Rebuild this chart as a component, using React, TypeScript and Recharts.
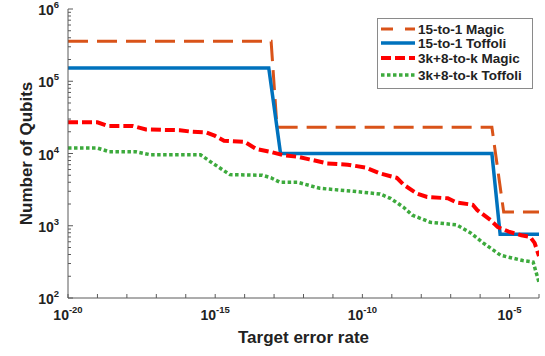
import { LineChart, Line, XAxis, YAxis, Legend, Label } from 'recharts'

// target error rate as exponent of 10, and qubit counts
const magic15Exp = [-20, -13.1, -12.9, -5.6, -5.2, -4]
const magic15Qubits = [3.57e5, 3.57e5, 2.3e4, 2.3e4, 1.55e3, 1.55e3]

const toffoli15Exp = [-20, -13.18, -12.78, -5.6, -5.32, -4]
const toffoli15Qubits = [1.52e5, 1.52e5, 1.0e4, 1.0e4, 760, 760]

const magicKExp = [
  -20, -19.0, -18.65, -17.8, -17.35, -16.2, -15.8, -15.3, -15.0, -14.7, -14.0, -13.6, -13.1,
  -12.7, -12.2, -11.8, -11.2, -10.5, -9.9, -9.4, -8.83, -8.6, -8.15, -7.8, -7.1, -6.8, -6.25,
  -6.1, -5.65, -5.4, -5.0, -4.6, -4.3, -4.15, -4,
]
const magicKQubits = [
  2.7e4, 2.7e4, 2.4e4, 2.4e4, 2.15e4, 2.1e4, 2.0e4, 1.95e4, 1.75e4, 1.5e4, 1.45e4, 1.15e4, 1.05e4,
  9.5e3, 9.0e3, 8.3e3, 7.3e3, 7.0e3, 6.4e3, 5.3e3, 4.6e3, 3.7e3, 2.8e3, 2.5e3, 2.4e3, 2.1e3, 1.95e3,
  1.65e3, 1.2e3, 960, 820, 740, 700, 580, 380,
]

const toffoliKExp = [
  -20, -19.0, -18.6, -17.7, -17.2, -15.5, -15.1, -14.5, -13.4, -13.1, -12.8, -12.2, -11.45, -10.3,
  -9.4, -9.05, -8.6, -8.3, -7.7, -6.8, -6.35, -5.9, -5.3, -4.55, -4.2, -4,
]
const toffoliKQubits = [
  1.19e4, 1.19e4, 1.06e4, 1.06e4, 9.6e3, 9.6e3, 7.4e3, 5.1e3, 5.0e3, 4.6e3, 4.0e3, 4.0e3, 3.3e3, 3.0e3,
  2.75e3, 2.4e3, 1.8e3, 1.4e3, 1.12e3, 1.03e3, 810, 580, 390, 330, 315, 165,
]

const xTickExp = [-20, -19, -18, -17, -16, -15, -14, -13, -12, -11, -10, -9, -8, -7, -6, -5, -4]
const yMajor = [1e2, 1e3, 1e4, 1e5, 1e6]
const yMinorSteps = [2, 3, 4, 5, 6, 7, 8, 9]

const series = [
  { name: '15-to-1 Magic', exp: magic15Exp, qubits: magic15Qubits, color: '#D95319', width: 3, dash: '20 9', legendDash: '12 12' },
  { name: '15-to-1 Toffoli', exp: toffoli15Exp, qubits: toffoli15Qubits, color: '#0072BD', width: 3.5, dash: undefined, legendDash: undefined },
  { name: '3k+8-to-k Magic', exp: magicKExp, qubits: magicKQubits, color: '#FF0000', width: 4, dash: '10 4', legendDash: '10 4' },
  { name: '3k+8-to-k Toffoli', exp: toffoliKExp, qubits: toffoliKQubits, color: '#3DAA3D', width: 3.5, dash: '3.5 2.5', legendDash: '3.5 2.5' },
]

const xTicks = xTickExp.map((e) => Math.pow(10, e))
const yTicks = [
  ...yMajor,
  ...yMajor.slice(0, -1).flatMap((m) => yMinorSteps.map((s) => s * m)),
]

const font = '"Liberation Sans", Arial, sans-serif'
const axisColor = '#5a5a5a'

const expOf = (v: number) => Math.round(Math.log10(v))
const isMajorY = (v: number) => Math.abs(Math.log10(v) - expOf(v)) < 1e-6

function BottomTick({ x, y, payload }: any) {
  const e = expOf(payload.value)
  return (
    <g>
      <line x1={x} x2={x} y1={y} y2={y - 4} stroke={axisColor} />
      {e % 5 === 0 && (
        <text x={x} y={y + 22} textAnchor="middle" fontFamily={font} fontWeight="bold" fontSize={14} fill="#222">
          10
          <tspan dy={-7} fontSize={9.5}>{e}</tspan>
        </text>
      )}
    </g>
  )
}

function TopTick({ x, y }: any) {
  return <line x1={x} x2={x} y1={y} y2={y + 4} stroke={axisColor} />
}

function LeftTick({ x, y, payload }: any) {
  const major = isMajorY(payload.value)
  const e = expOf(payload.value)
  return (
    <g>
      <line x1={x} x2={x + (major ? 5 : 3)} y1={y} y2={y} stroke={axisColor} />
      {major && (
        <text x={x - 9} y={y + 6} textAnchor="end" fontFamily={font} fontWeight="bold" fontSize={14} fill="#222">
          10
          <tspan dy={-7} fontSize={9.5}>{e}</tspan>
        </text>
      )}
    </g>
  )
}

function RightTick({ x, y, payload }: any) {
  const major = isMajorY(payload.value)
  return <line x1={x} x2={x - (major ? 5 : 3)} y1={y} y2={y} stroke={axisColor} />
}

function LegendBox() {
  return (
    <svg width={156} height={71} style={{ display: 'block' }}>
      <rect x={0.5} y={0.5} width={155} height={70} fill="#fff" stroke="#8a8a8a" />
      {series.map((s, i) => {
        const cy = [11, 25, 40, 57][i]
        return (
          <g key={s.name}>
            <line x1={4} x2={38} y1={cy} y2={cy} stroke={s.color} strokeWidth={s.width} strokeDasharray={s.legendDash} />
            <text x={41} y={cy + 5} fontFamily={font} fontWeight="bold" fontSize={13.5} fill="#222">
              {s.name}
            </text>
          </g>
        )
      })}
    </svg>
  )
}

export default function App() {
  return (
    <div style={{ position: 'absolute', left: 0, top: 0, background: '#fff' }}>
      <LineChart width={545} height={356} margin={{ top: 9, right: 6, bottom: 0, left: 0 }}>
        <XAxis
          xAxisId="bottom"
          dataKey="rate"
          type="number"
          scale="log"
          domain={[1e-20, 1e-4]}
          allowDataOverflow
          ticks={xTicks}
          interval={0}
          height={58}
          tickSize={0}
          tickMargin={0}
          tickLine={false}
          stroke={axisColor}
          tick={<BottomTick />}
        >
          <Label
            value="Target error rate"
            position="insideBottom"
            offset={13}
            style={{ fontFamily: font, fontWeight: 'bold', fontSize: 17, fill: '#222' }}
          />
        </XAxis>
        <XAxis
          xAxisId="top"
          orientation="top"
          dataKey="rate"
          type="number"
          scale="log"
          domain={[1e-20, 1e-4]}
          allowDataOverflow
          ticks={xTicks}
          interval={0}
          height={0}
          tickSize={0}
          tickMargin={0}
          tickLine={false}
          stroke={axisColor}
          tick={<TopTick />}
        />
        <YAxis
          yAxisId="left"
          dataKey="qubits"
          type="number"
          scale="log"
          domain={[1e2, 1e6]}
          allowDataOverflow
          ticks={yTicks}
          interval={0}
          width={68}
          tickSize={0}
          tickMargin={0}
          tickLine={false}
          stroke={axisColor}
          tick={<LeftTick />}
        >
          <Label
            value="Number of Qubits"
            angle={-90}
            position="insideLeft"
            offset={26}
            style={{ fontFamily: font, fontWeight: 'bold', fontSize: 17, fill: '#222', textAnchor: 'middle' }}
          />
        </YAxis>
        <YAxis
          yAxisId="right"
          orientation="right"
          dataKey="qubits"
          type="number"
          scale="log"
          domain={[1e2, 1e6]}
          allowDataOverflow
          ticks={yTicks}
          interval={0}
          width={0}
          tickSize={0}
          tickMargin={0}
          tickLine={false}
          stroke={axisColor}
          tick={<RightTick />}
        />
        {series.map((s) => (
          <Line
            key={s.name}
            xAxisId="bottom"
            yAxisId="left"
            name={s.name}
            data={s.exp.map((e, i) => ({ rate: Math.pow(10, e), qubits: s.qubits[i] }))}
            dataKey="qubits"
            stroke={s.color}
            strokeWidth={s.width}
            strokeDasharray={s.dash}
            dot={false}
            activeDot={false}
            isAnimationActive={false}
          />
        ))}
        <Legend
          layout="vertical"
          align="center"
          verticalAlign="middle"
          content={() => <LegendBox />}
          wrapperStyle={{ position: 'absolute', left: 377, top: 18, width: 156, height: 71 }}
        />
      </LineChart>
    </div>
  )
}
